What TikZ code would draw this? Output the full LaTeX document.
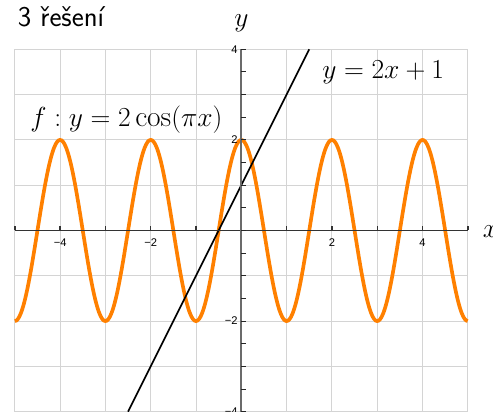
\documentclass[tikz,border=0pt]{standalone}
\usepackage{fontspec}
\newfontfamily\tickfont{Liberation Sans}
\begin{document}
\begin{tikzpicture}[x=1cm,y=1cm,
  gridline/.style={draw=black!17, line width=0.6pt},
  cosplot/.style={draw={rgb,255:red,255;green,128;blue,0}, line width=2.3pt},
  linplot/.style={draw=black, line width=1.05pt},
  xaxisline/.style={draw=black!80, line width=0.9pt},
  yaxisline/.style={draw=black!58, line width=1.3pt},
  tickline/.style={draw=black!85, line width=0.6pt},
  ticklabel/.style={font=\tickfont\fontsize{7}{8}\selectfont, inner sep=0pt},
  mathlabel/.style={inner sep=0pt, font=\fontsize{18.5}{22}\selectfont}]
\useasboundingbox (-5.327,-3.985) rectangle (5.556,5.088);
\draw[gridline] (-5,-4) grid (5,4);
\draw[cosplot] plot[domain=-5:5, samples=301, smooth] (\x,{2*cos(180*\x)});
\coordinate (L1) at (-2.5,-4);
\coordinate (L2) at (1.5,4);
\draw[linplot] (L1) -- (L2);
\coordinate (XA) at (-5,0);
\coordinate (XB) at (5,0);
\coordinate (YA) at (0,-4);
\coordinate (YB) at (0,4);
\draw[xaxisline] (XA) -- (XB);
\foreach \i in {-5,...,5} \draw[xaxisline] (\i,0) -- (\i,0.09);
\draw[yaxisline] (YA) -- (YB);
\foreach \j in {-4,-3.5,...,4} \draw[tickline] (0,\j) -- (0.11,\j);
\foreach \i/\t in {-4/−4,-2/−2,2/2,4/4}
  \node[ticklabel, anchor=north] (xl\i) at (\i,-0.18) {\t};
\foreach \j/\t in {-4/−4,-2/−2,2/2,4/4}
  \node[ticklabel, anchor=east] (yl\j) at (-0.075,\j) {\t};
\node[anchor=base, inner sep=0pt, font=\sffamily\fontsize{18}{21}\selectfont] (title) at (-3.981,4.496) {3 řešení};
\node[mathlabel, anchor=base] (flab) at (-2.536,2.305) {$f:y=2\cos(\pi x)$};
\node[mathlabel, anchor=base, font=\fontsize{18}{21}\selectfont] (glab) at (3.133,3.358) {$y=2x+1$};
\node[mathlabel, anchor=base] (ylab) at (0,4.51) {$y$};
\node[mathlabel, anchor=base west] (xlab) at (5.328,-0.165) {$x$};
\end{tikzpicture}
\end{document}
